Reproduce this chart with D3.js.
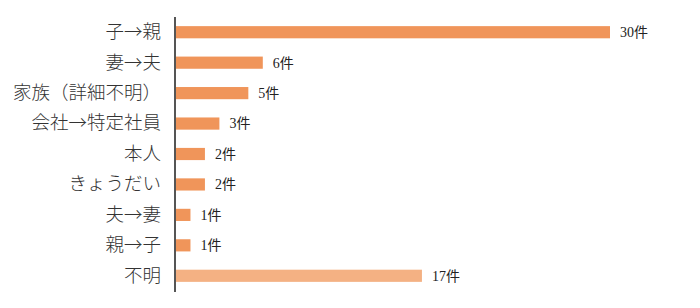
<!DOCTYPE html>
<html>
<head>
<meta charset="utf-8">
<script src="https://cdn.jsdelivr.net/npm/d3@7"></script>
<style>
  body { margin: 0; background: #fff; }
</style>
</head>
<body>
<svg id="chart"></svg>
<script>
var categories = ["子→親", "妻→夫", "家族（詳細不明）", "会社→特定社員", "本人", "きょうだい", "夫→妻", "親→子", "不明"];
var counts = [30, 6, 5, 3, 2, 2, 1, 1, 17];
var unit = "件";

var width = 700, height = 308;
var margin = {top: 17, left: 176, bottom: 17};

var svg = d3.select("#chart")
  .attr("width", width)
  .attr("height", height);

var x = d3.scaleLinear()
  .domain([0, 30])
  .range([margin.left, 610]);

var y = d3.scaleBand()
  .domain(categories)
  .range([margin.top, height - margin.bottom])
  .paddingInner(0.6)
  .paddingOuter(0.3);

// bars
svg.append("g")
  .selectAll("rect")
  .data(counts)
  .enter()
  .append("rect")
    .attr("x", x(0))
    .attr("y", function(d, i) { return y(categories[i]); })
    .attr("width", function(d) { return x(d) - x(0); })
    .attr("height", y.bandwidth())
    .style("fill", function(d, i) { return categories[i] == "不明" ? "#f4b183" : "#f0955a"; });

// value labels
svg.append("g")
  .selectAll("text")
  .data(counts)
  .enter()
  .append("text")
    .attr("x", function(d) { return x(d) + 10; })
    .attr("y", function(d, i) { return y(categories[i]) + y.bandwidth() / 2; })
    .attr("dy", "0.35em")
    .style("font-family", "'Liberation Serif', 'Noto Sans CJK JP', serif")
    .style("font-size", "14px")
    .style("fill", "#222")
    .text(function(d) { return d + unit; });

// axis on the left
var axis = svg.append("g")
  .attr("transform", "translate(" + (margin.left - 1) + ",0)")
  .call(d3.axisLeft(y).tickSize(0).tickPadding(14));

axis.select(".domain")
  .attr("d", "M0," + (margin.top) + "V" + (height - margin.bottom + 1))
  .style("stroke", "#555")
  .style("stroke-width", 2);

axis.selectAll("text")
  .style("font-family", "'Noto Sans CJK JP', sans-serif")
  .style("font-size", "18.5px")
  .style("font-weight", 300)
  .style("fill", "#333");
</script>
</body>
</html>
